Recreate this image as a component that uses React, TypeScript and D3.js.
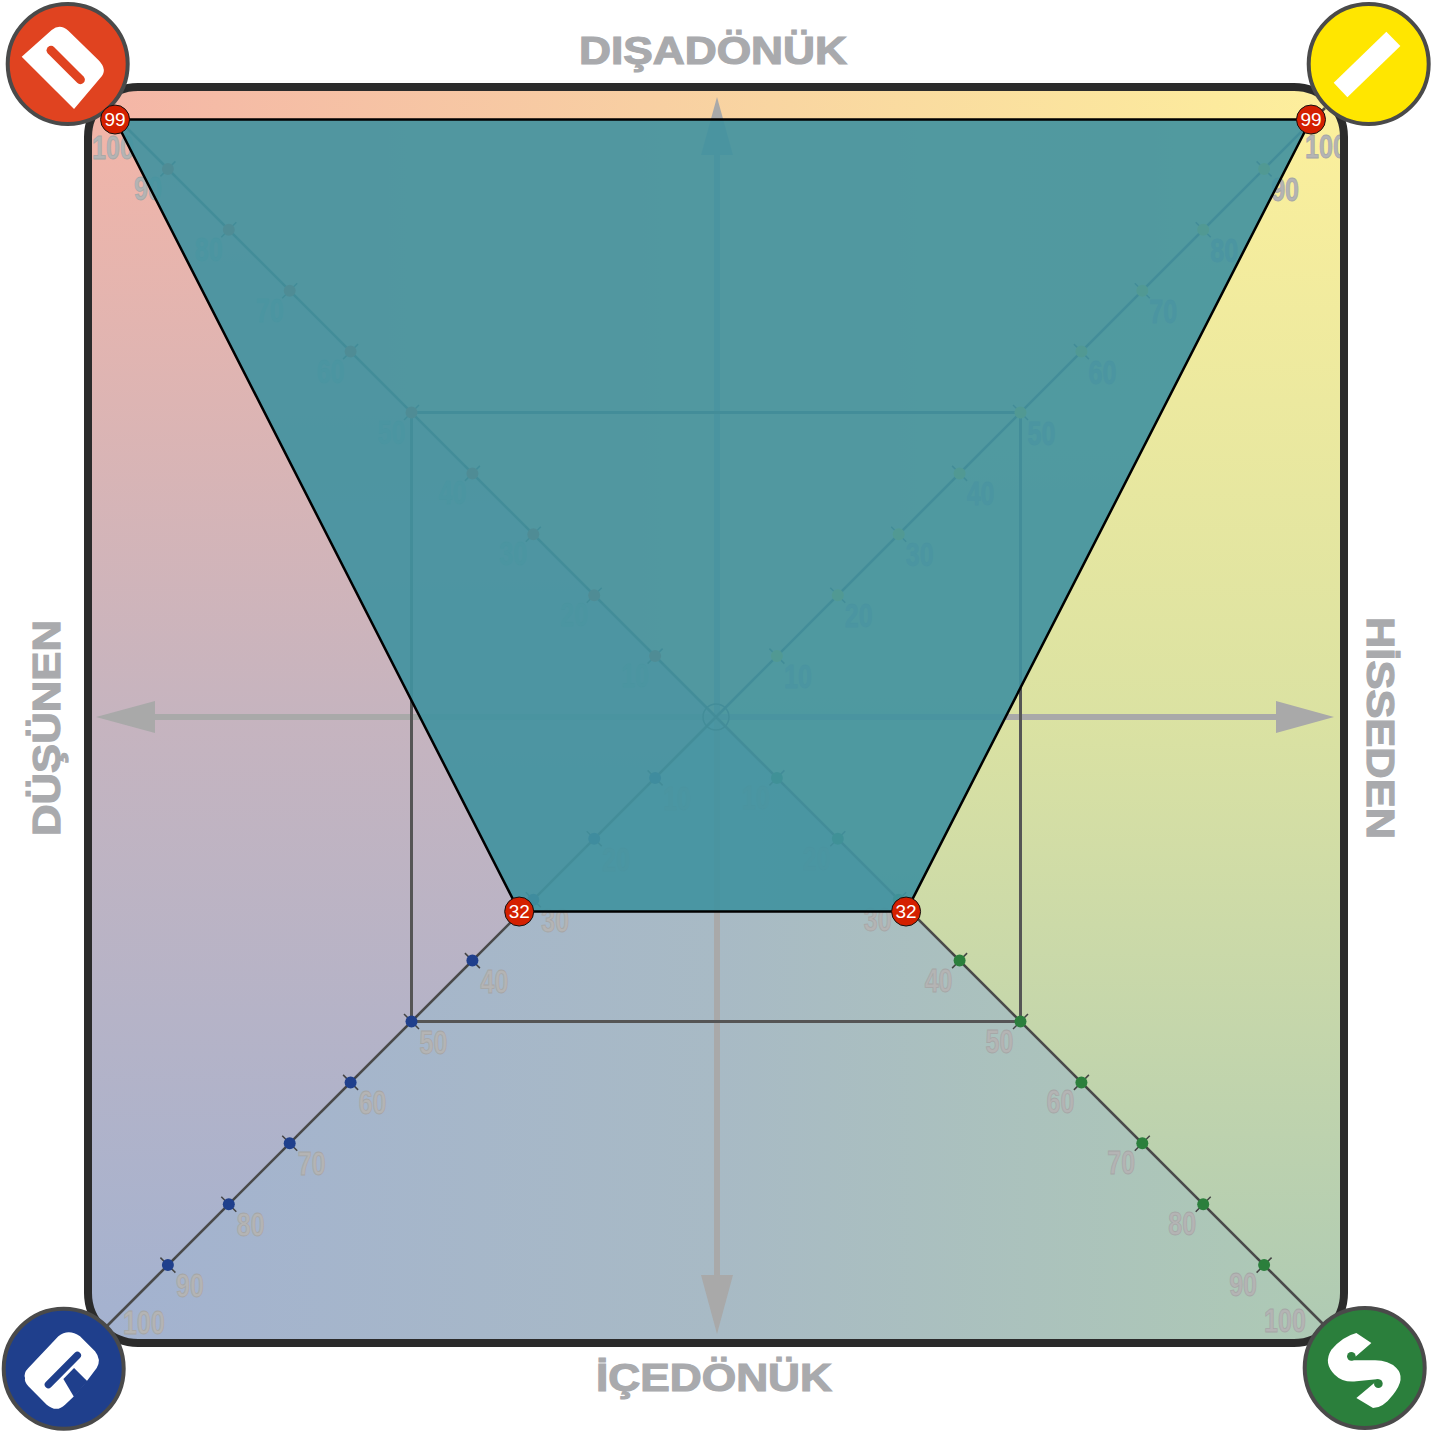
import React from "react";
import * as d3 from "d3";

// ---------- data ----------
const tickValues = [10, 20, 30, 40, 50, 60, 70, 80, 90, 100];
const cornerNames = ["D", "I", "S", "C"];
const cornerSignsX = [-1, 1, 1, -1];
const cornerSignsY = [-1, -1, 1, 1];
const cornerColors = ["#e04320", "#ffe600", "#2b7f3c", "#1f3f8c"];
const profileValues = [99, 99, 32, 32];
const gridSquareValue = 50;
const axisTitles = ["DIŞADÖNÜK", "HİSSEDEN", "İÇEDÖNÜK", "DÜŞÜNEN"];

// ---------- layout ----------
const W = 1443, H = 1433, CX = 716, CY = 717;
const reach = d3.scaleLinear().domain([0, 100]).range([0, 609]);
const pointAt = (i: number, v: number): [number, number] => [
  CX + cornerSignsX[i] * reach(v),
  CY + cornerSignsY[i] * reach(v),
];
const profileX = [[CX, 109], [CX, 1317], [CX, 1310], [CX, 101]].map((r) => d3.scaleLinear().domain([0, 100]).range(r));
const profileY = [[CY, 113.5], [CY, 113.5], [CY, 1325], [CY, 1325]].map((r) => d3.scaleLinear().domain([0, 100]).range(r));
const labelOffsets: [number, number][] = [[-20, 19], [21, 20], [-21, 19], [22, 20]];
const lastLabelOffsets: [number, number][] = [[6, 39], [1, 38], [-40, -6], [37, -4]];
const logoCenters: [number, number][] = [[67.7, 64], [1368.7, 64], [1364.7, 1368], [63.7, 1368.7]];
const logoOrigins: [number, number][] = [[203, 192], [677, 192], [665, 705], [191, 707]];

const GREY = "#a9aaad";
const fontBold = "'Liberation Sans', Arial, sans-serif";

const polygonPoints = profileValues.map((v, i): [number, number] => [profileX[i](v), profileY[i](v)]);
const polygonPath = d3.line()(polygonPoints) + "Z";

const X0 = 88, Y0 = 87, X1 = 1344, Y1 = 1343;
const tri = (pts: number[][]) => pts.map((p) => p.join(",")).join(" ");

function Arrow({ dx, dy, len, base }: { dx: number; dy: number; len: number; base: number }) {
  const hw = 16;
  const px = -dy, py = dx;
  const tip: [number, number] = [CX + 1 + dx * len, CY + dy * len];
  const b: [number, number] = [CX + 1 + dx * base, CY + dy * base];
  const pts = [tip, [b[0] + px * hw, b[1] + py * hw], [b[0] - px * hw, b[1] - py * hw]];
  return (
    <g>
      <line x1={CX + 1} y1={CY} x2={b[0]} y2={b[1]} stroke="#a9a9a9" strokeWidth={6} />
      <polygon points={tri(pts as number[][])} fill="#a9a9a9" />
    </g>
  );
}

function LogoGlyph({ i }: { i: number }) {
  const col = cornerColors[i];
  const [cx, cy] = logoCenters[i];
  const [ox, oy] = logoOrigins[i];
  return (
    <g>
      <circle cx={cx} cy={cy} r={60} fill={col} stroke="#4a4a4a" strokeWidth={4} />
      <g transform={`translate(${cx},${cy}) scale(${1 / 3}) translate(${-ox},${-oy})`}>
        {cornerNames[i] === "D" && (
          <g>
            <path d="M65 170 L155 90 Q180 70 205 92 L295 180 Q325 210 300 235 L222 327 Z" fill="#fff" />
            <line x1={153} y1={151} x2={241} y2={239} stroke={col} strokeWidth={27} strokeLinecap="round" />
          </g>
        )}
        {cornerNames[i] === "I" && <polygon points="730,95 772,138 613,292 572,248" fill="#fff" />}
        {cornerNames[i] === "C" && (
          <g>
            <path d="M75 735 Q70 720 85 705 L175 610 Q205 585 240 610 L285 655 Q305 680 290 705 L260 745 L222 790 L195 815 Q170 840 140 815 L85 760 Q72 745 75 735 Z" fill="#fff" />
            <line x1={232} y1={667} x2={145} y2={755} stroke={col} strokeWidth={22} strokeLinecap="round" />
            <polygon points="262,745 222,705 190,738 222,792" fill={col} />
          </g>
        )}
        {cornerNames[i] === "S" && (
          <g>
            <path d="M640 600 Q600 610 565 650 Q540 690 575 725 Q600 750 640 745 L708 738 L640 795 L690 825 Q720 825 750 785 Q790 735 760 705 Q735 680 690 682 L625 682 L685 630 Z" fill="#fff" />
            <circle cx={625} cy={670} r={13} fill={col} />
            <circle cx={706} cy={752} r={13} fill={col} />
          </g>
        )}
      </g>
    </g>
  );
}

export default function App() {
  const sq0 = pointAt(0, gridSquareValue);
  const sq2 = pointAt(2, gridSquareValue);
  const centre = [CX, CY];
  return (
    <svg width={W} height={H} style={{ position: "absolute", left: 0, top: 0, background: "#fff" }}>
      <defs>
        <linearGradient id="gTop" gradientUnits="userSpaceOnUse" x1={X0} y1={0} x2={X1} y2={0}>
          <stop offset="0" stopColor="#f4b5a7" />
          <stop offset="1" stopColor="#fdf09c" />
        </linearGradient>
        <linearGradient id="gBottom" gradientUnits="userSpaceOnUse" x1={X0} y1={0} x2={X1} y2={0}>
          <stop offset="0" stopColor="#a3b2d0" />
          <stop offset="0.5" stopColor="#a8bac5" />
          <stop offset="1" stopColor="#aecab4" />
        </linearGradient>
        <linearGradient id="gLeft" gradientUnits="userSpaceOnUse" x1={0} y1={Y0} x2={0} y2={Y1}>
          <stop offset="0" stopColor="#f4b5a7" />
          <stop offset="0.5" stopColor="#c6b4bf" />
          <stop offset="1" stopColor="#a3b2d0" />
        </linearGradient>
        <linearGradient id="gRight" gradientUnits="userSpaceOnUse" x1={0} y1={Y0} x2={0} y2={Y1}>
          <stop offset="0" stopColor="#fdf09c" />
          <stop offset="0.5" stopColor="#dbe2a2" />
          <stop offset="1" stopColor="#aecab4" />
        </linearGradient>
        <clipPath id="frameClip">
          <rect x={X0} y={Y0} width={X1 - X0} height={Y1 - Y0} rx={50} />
        </clipPath>
      </defs>

      {/* background: four triangular sectors */}
      <g clipPath="url(#frameClip)" shapeRendering="crispEdges">
        <polygon points={tri([[X0, Y0], [X1, Y0], centre])} fill="url(#gTop)" />
        <polygon points={tri([[X0, Y1], [X1, Y1], centre])} fill="url(#gBottom)" />
        <polygon points={tri([[X0, Y0], [X0, Y1], centre])} fill="url(#gLeft)" />
        <polygon points={tri([[X1, Y0], [X1, Y1], centre])} fill="url(#gRight)" />
      </g>

      {/* axes arrows */}
      <Arrow dx={0} dy={-1} len={620} base={562} />
      <Arrow dx={1} dy={0} len={617} base={559} />
      <Arrow dx={0} dy={1} len={617} base={558} />
      <Arrow dx={-1} dy={0} len={621} base={562} />

      {/* 50 square */}
      <rect x={sq0[0]} y={sq0[1]} width={sq2[0] - sq0[0]} height={sq2[1] - sq0[1]} fill="none" stroke="#555" strokeWidth={3} />

      {/* diagonals */}
      {cornerNames.map((n, i) => {
        const e = pointAt(i, 100);
        return <line key={n} x1={CX} y1={CY} x2={e[0]} y2={e[1]} stroke="#4a4a4a" strokeWidth={2.6} />;
      })}
      <circle cx={CX} cy={CY} r={13} fill="none" stroke="#4a4a4a" strokeWidth={1.5} />

      {/* tick marks + labels */}
      {cornerNames.map((n, i) =>
        tickValues.map((v) => {
          const [x, y] = pointAt(i, v);
          const off = v === 100 ? lastLabelOffsets[i] : labelOffsets[i];
          return (
            <g key={n + v}>
              {v < 100 && (
                <g>
                  <line x1={x - 7.5} y1={y + 7.5} x2={x + 7.5} y2={y - 7.5} stroke="#444" strokeWidth={1.5} />
                  <line x1={x - 7.5} y1={y - 7.5} x2={x + 7.5} y2={y + 7.5} stroke="#444" strokeWidth={1.5} />
                  <circle cx={x} cy={y} r={6} fill={cornerColors[i]} />
                </g>
              )}
              <text
                transform={`translate(${x + off[0]},${y + off[1] + 12}) scale(0.76,1)`}
                textAnchor="middle"
                fontFamily={fontBold}
                fontWeight="bold"
                fontSize={33}
                fill="#b4b4b4"
                stroke="#a6a6a6"
                strokeWidth={0.8}
              >
                {v}
              </text>
            </g>
          );
        })
      )}

      {/* frame */}
      <rect x={X0} y={Y0} width={X1 - X0} height={Y1 - Y0} rx={50} fill="none" stroke="#2b2b2b" strokeWidth={8} />

      {/* titles */}
      <g fontFamily={fontBold} fontWeight="bold" fontSize={38} fill={GREY} stroke={GREY} strokeWidth={1.2} textAnchor="middle">
        <text x={713} y={63.5} textLength={268} lengthAdjust="spacingAndGlyphs">{axisTitles[0]}</text>
        <text transform="translate(1367,728) rotate(90)" textLength={222} lengthAdjust="spacingAndGlyphs">{axisTitles[1]}</text>
        <text x={714} y={1391} textLength={236} lengthAdjust="spacingAndGlyphs">{axisTitles[2]}</text>
        <text transform="translate(59.5,728) rotate(-90)" textLength={216} lengthAdjust="spacingAndGlyphs">{axisTitles[3]}</text>
      </g>

      {/* logos */}
      {cornerNames.map((n, i) => <LogoGlyph key={n} i={i} />)}

      {/* profile */}
      <path d={polygonPath} fill="#42929f" fillOpacity={0.92} stroke="#000" strokeWidth={2.5} strokeLinejoin="round" />
      {polygonPoints.map((p, i) => (
        <g key={i}>
          <circle cx={p[0]} cy={p[1]} r={14.5} fill="#d42000" stroke="#111" strokeWidth={1} />
          <text x={p[0]} y={p[1] + 6.5} textAnchor="middle" fontFamily={fontBold} fontSize={19} fill="#fff">{profileValues[i]}</text>
        </g>
      ))}
    </svg>
  );
}
